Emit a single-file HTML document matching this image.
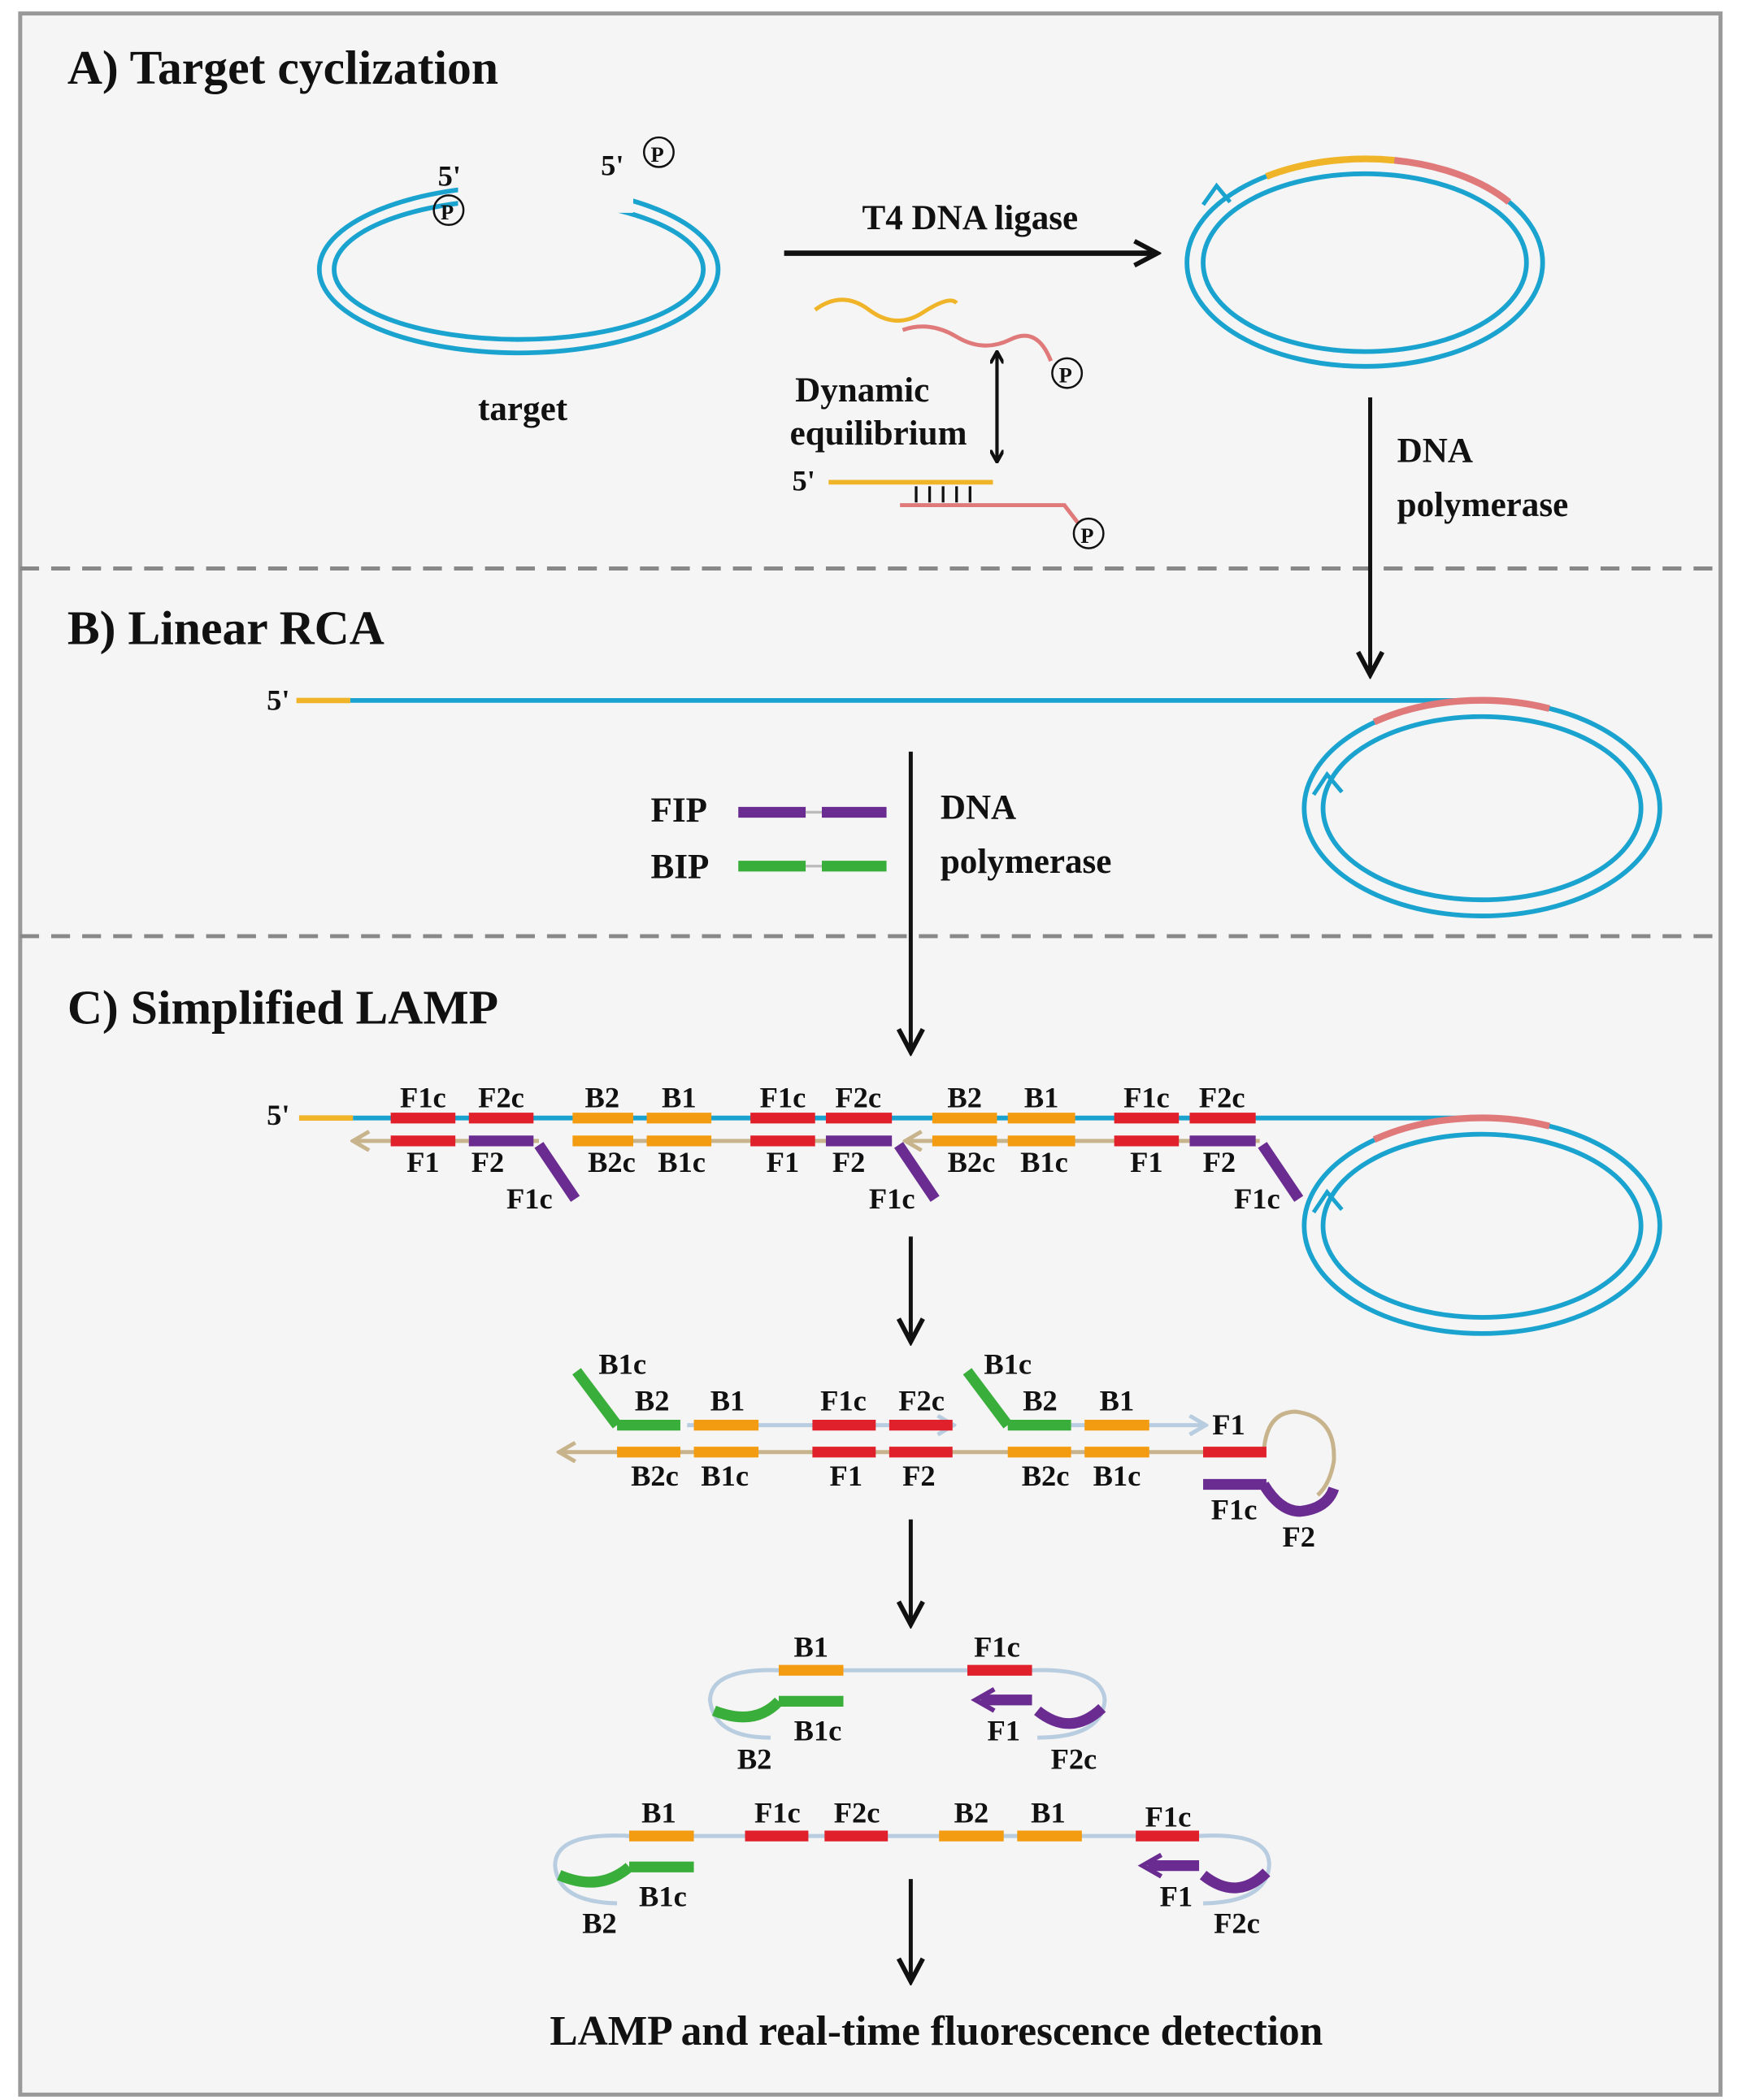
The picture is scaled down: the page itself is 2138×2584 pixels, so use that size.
<!DOCTYPE html>
<html><head><meta charset="utf-8"><style>
html,body{margin:0;padding:0;background:#fff;}
svg{display:block;}
text{font-family:"Liberation Serif",serif;font-weight:bold;fill:#111;}
</style></head><body>
<svg width="2138" height="2584" viewBox="0 0 1290 1559" preserveAspectRatio="none" xmlns="http://www.w3.org/2000/svg">
<defs>
<marker id="ah" markerWidth="10" markerHeight="10" refX="8" refY="5" orient="auto-start-reverse" markerUnits="userSpaceOnUse"><path d="M0,0 L9,5 L0,10" fill="none" stroke="#111" stroke-width="2.5"/></marker>
<marker id="ahs" markerWidth="22" markerHeight="22" refX="18" refY="11" orient="auto" markerUnits="userSpaceOnUse"><path d="M2,2 L19,11 L2,20" fill="none" stroke="#111" stroke-width="3.5"/></marker>
<marker id="tan" markerWidth="16" markerHeight="16" refX="2" refY="8" orient="auto" markerUnits="userSpaceOnUse"><path d="M14,1 L2,8 L14,15" fill="none" stroke="#c8b48c" stroke-width="3"/></marker>
<marker id="lb" markerWidth="16" markerHeight="16" refX="14" refY="8" orient="auto" markerUnits="userSpaceOnUse"><path d="M2,1 L14,8 L2,15" fill="none" stroke="#b8cde0" stroke-width="3"/></marker>
</defs>
<rect x="0" y="0" width="1290" height="1559" fill="#fff"/>
<rect x="15" y="10" width="1262" height="1545" fill="#f5f5f5" stroke="#999" stroke-width="3"/>
<line x1="15" y1="422" x2="1277" y2="422" stroke="#888" stroke-width="3" stroke-dasharray="14,9"/>
<line x1="15" y1="695" x2="1277" y2="695" stroke="#888" stroke-width="3" stroke-dasharray="14,9"/>

<!-- A -->
<text x="50" y="62" font-size="36">A) Target cyclization</text>
<g fill="none" stroke="#1ba3d0" stroke-width="3.5">
<ellipse cx="385" cy="200" rx="148" ry="62"/>
<ellipse cx="385" cy="200" rx="137" ry="52"/>
</g>
<rect x="340" y="128" width="130" height="30" fill="#f5f5f5"/>
<text x="325" y="138" font-size="22">5'</text>
<circle cx="333" cy="156" r="11" fill="none" stroke="#111" stroke-width="1.5"/><text x="327" y="163" font-size="16" font-weight="normal">P</text>
<text x="446" y="130" font-size="22">5'</text>
<circle cx="489" cy="113" r="11" fill="none" stroke="#111" stroke-width="1.5"/><text x="483" y="120" font-size="16" font-weight="normal">P</text>
<text x="388" y="312" font-size="26" text-anchor="middle">target</text>

<line x1="582" y1="188" x2="858" y2="188" stroke="#111" stroke-width="4" marker-end="url(#ahs)"/>
<text x="720" y="170" font-size="26" text-anchor="middle">T4 DNA ligase</text>

<g fill="none" stroke="#1ba3d0" stroke-width="3.5">
<ellipse cx="1013" cy="195" rx="132" ry="77"/>
<ellipse cx="1013" cy="195" rx="120" ry="66"/>
</g>
<path d="M940,131 A132,77 0 0,1 1035,119" fill="none" stroke="#f0b429" stroke-width="5"/>
<path d="M1035,119 A132,77 0 0,1 1120,150" fill="none" stroke="#e07a7a" stroke-width="5"/>
<path d="M893,152 L903,138 L913,150" fill="none" stroke="#1ba3d0" stroke-width="3"/>

<path d="M605,230 Q625,215 645,230 T685,232 T710,225" fill="none" stroke="#f0b429" stroke-width="3"/>
<path d="M670,245 Q690,238 710,250 T750,252 T780,268" fill="none" stroke="#e07a7a" stroke-width="3"/>
<circle cx="792" cy="277" r="11" fill="none" stroke="#111" stroke-width="1.5"/><text x="786" y="284" font-size="16" font-weight="normal">P</text>
<line x1="740" y1="262" x2="740" y2="342" stroke="#111" stroke-width="2.5" marker-start="url(#ah)" marker-end="url(#ah)"/>
<text x="640" y="298" font-size="26" text-anchor="middle">Dynamic</text>
<text x="652" y="330" font-size="26" text-anchor="middle">equilibrium</text>
<text x="588" y="364" font-size="22">5'</text>
<line x1="615" y1="358" x2="737" y2="358" stroke="#f0b429" stroke-width="3.5"/>
<path d="M668,375 L790,375 L800,388" fill="none" stroke="#e07a7a" stroke-width="3"/>
<g stroke="#111" stroke-width="2"><line x1="680" y1="361" x2="680" y2="373"/><line x1="690" y1="361" x2="690" y2="373"/><line x1="700" y1="361" x2="700" y2="373"/><line x1="710" y1="361" x2="710" y2="373"/><line x1="720" y1="361" x2="720" y2="373"/></g>
<circle cx="808" cy="396" r="11" fill="none" stroke="#111" stroke-width="1.5"/><text x="802" y="403" font-size="16" font-weight="normal">P</text>

<line x1="1017" y1="295" x2="1017" y2="500" stroke="#111" stroke-width="3" marker-end="url(#ahs)"/>
<text x="1037" y="343" font-size="26">DNA</text>
<text x="1037" y="383" font-size="26">polymerase</text>

<!-- B -->
<text x="50" y="478" font-size="36">B) Linear RCA</text>
<text x="198" y="527" font-size="22">5'</text>
<line x1="220" y1="520" x2="260" y2="520" stroke="#f0b429" stroke-width="4"/>
<line x1="260" y1="520" x2="1100" y2="520" stroke="#1ba3d0" stroke-width="3.5"/>
<g fill="none" stroke="#1ba3d0" stroke-width="3.5">
<ellipse cx="1100" cy="600" rx="132" ry="80"/>
<ellipse cx="1100" cy="600" rx="118" ry="68"/>
</g>
<path d="M1020,536 A132,80 0 0,1 1150,526" fill="none" stroke="#e07a7a" stroke-width="5"/>
<path d="M975,590 L985,575 L996,588" fill="none" stroke="#1ba3d0" stroke-width="3"/>
<text x="483" y="610" font-size="26">FIP</text>
<line x1="548" y1="603" x2="598" y2="603" stroke="#6a2c91" stroke-width="8"/><line x1="598" y1="603" x2="610" y2="603" stroke="#bbb" stroke-width="2"/><line x1="610" y1="603" x2="658" y2="603" stroke="#6a2c91" stroke-width="8"/>
<text x="483" y="652" font-size="26">BIP</text>
<line x1="548" y1="643" x2="598" y2="643" stroke="#3aae3a" stroke-width="8"/><line x1="598" y1="643" x2="610" y2="643" stroke="#bbb" stroke-width="2"/><line x1="610" y1="643" x2="658" y2="643" stroke="#3aae3a" stroke-width="8"/>
<line x1="676" y1="558" x2="676" y2="780" stroke="#111" stroke-width="3" marker-end="url(#ahs)"/>
<text x="698" y="608" font-size="26">DNA</text>
<text x="698" y="648" font-size="26">polymerase</text>

<!-- C -->
<text x="50" y="760" font-size="36">C) Simplified LAMP</text>
<text x="198" y="835" font-size="22">5'</text>
<line x1="222" y1="830" x2="262" y2="830" stroke="#f0b429" stroke-width="4"/>
<line x1="262" y1="830" x2="1100" y2="830" stroke="#1ba3d0" stroke-width="3.5"/>
<g fill="none" stroke="#1ba3d0" stroke-width="3.5">
<ellipse cx="1100" cy="910" rx="132" ry="80"/>
<ellipse cx="1100" cy="910" rx="118" ry="68"/>
</g>
<path d="M1020,846 A132,80 0 0,1 1150,836" fill="none" stroke="#e07a7a" stroke-width="5"/>
<path d="M975,900 L985,885 L996,898" fill="none" stroke="#1ba3d0" stroke-width="3"/>
<g stroke="#c8b48c" stroke-width="3">
<line x1="262" y1="847" x2="400" y2="847" marker-start="url(#tan)"/>
<line x1="425" y1="847" x2="662" y2="847"/>
<line x1="672" y1="847" x2="935" y2="847" marker-start="url(#tan)"/>
</g>
<g stroke-width="8">
<line x1="290" y1="830" x2="338" y2="830" stroke="#e0202a"/><line x1="348" y1="830" x2="396" y2="830" stroke="#e0202a"/>
<line x1="425" y1="830" x2="470" y2="830" stroke="#f39c12"/><line x1="480" y1="830" x2="528" y2="830" stroke="#f39c12"/>
<line x1="557" y1="830" x2="605" y2="830" stroke="#e0202a"/><line x1="613" y1="830" x2="662" y2="830" stroke="#e0202a"/>
<line x1="692" y1="830" x2="740" y2="830" stroke="#f39c12"/><line x1="748" y1="830" x2="798" y2="830" stroke="#f39c12"/>
<line x1="827" y1="830" x2="875" y2="830" stroke="#e0202a"/><line x1="883" y1="830" x2="932" y2="830" stroke="#e0202a"/>
<line x1="290" y1="847" x2="338" y2="847" stroke="#e0202a"/><line x1="348" y1="847" x2="396" y2="847" stroke="#6a2c91"/>
<line x1="425" y1="847" x2="470" y2="847" stroke="#f39c12"/><line x1="480" y1="847" x2="528" y2="847" stroke="#f39c12"/>
<line x1="557" y1="847" x2="605" y2="847" stroke="#e0202a"/><line x1="613" y1="847" x2="662" y2="847" stroke="#6a2c91"/>
<line x1="692" y1="847" x2="740" y2="847" stroke="#f39c12"/><line x1="748" y1="847" x2="798" y2="847" stroke="#f39c12"/>
<line x1="827" y1="847" x2="875" y2="847" stroke="#e0202a"/><line x1="883" y1="847" x2="932" y2="847" stroke="#6a2c91"/>
<line x1="400" y1="850" x2="427" y2="890" stroke="#6a2c91"/>
<line x1="667" y1="850" x2="694" y2="890" stroke="#6a2c91"/>
<line x1="937" y1="850" x2="964" y2="890" stroke="#6a2c91"/>
</g>
<g font-size="22" text-anchor="middle">
<text x="314" y="822">F1c</text><text x="372" y="822">F2c</text><text x="447" y="822">B2</text><text x="504" y="822">B1</text>
<text x="581" y="822">F1c</text><text x="637" y="822">F2c</text><text x="716" y="822">B2</text><text x="773" y="822">B1</text>
<text x="851" y="822">F1c</text><text x="907" y="822">F2c</text>
<text x="314" y="870">F1</text><text x="362" y="870">F2</text><text x="454" y="870">B2c</text><text x="506" y="870">B1c</text>
<text x="581" y="870">F1</text><text x="630" y="870">F2</text><text x="721" y="870">B2c</text><text x="775" y="870">B1c</text>
<text x="851" y="870">F1</text><text x="905" y="870">F2</text>
<text x="393" y="897">F1c</text><text x="662" y="897">F1c</text><text x="933" y="897">F1c</text>
</g>

<line x1="676" y1="918" x2="676" y2="995" stroke="#111" stroke-width="3" marker-end="url(#ahs)"/>

<!-- row 2 -->
<line x1="415" y1="1078" x2="895" y2="1078" stroke="#c8b48c" stroke-width="3" marker-start="url(#tan)"/>
<line x1="510" y1="1058" x2="708" y2="1058" stroke="#b8cde0" stroke-width="3" marker-end="url(#lb)"/>
<line x1="795" y1="1058" x2="895" y2="1058" stroke="#b8cde0" stroke-width="3" marker-end="url(#lb)"/>
<path d="M938,1078 Q940,1048 962,1048 Q992,1052 990,1085 Q987,1102 978,1110" fill="none" stroke="#c8b48c" stroke-width="3"/>
<g stroke-width="8" fill="none">
<line x1="458" y1="1058" x2="505" y2="1058" stroke="#3aae3a"/><line x1="458" y1="1058" x2="428" y2="1018" stroke="#3aae3a"/>
<line x1="515" y1="1058" x2="563" y2="1058" stroke="#f39c12"/>
<line x1="603" y1="1058" x2="650" y2="1058" stroke="#e0202a"/><line x1="660" y1="1058" x2="707" y2="1058" stroke="#e0202a"/>
<line x1="748" y1="1058" x2="795" y2="1058" stroke="#3aae3a"/><line x1="748" y1="1058" x2="718" y2="1018" stroke="#3aae3a"/>
<line x1="805" y1="1058" x2="853" y2="1058" stroke="#f39c12"/>
<line x1="458" y1="1078" x2="505" y2="1078" stroke="#f39c12"/><line x1="515" y1="1078" x2="563" y2="1078" stroke="#f39c12"/>
<line x1="603" y1="1078" x2="650" y2="1078" stroke="#e0202a"/><line x1="660" y1="1078" x2="707" y2="1078" stroke="#e0202a"/>
<line x1="748" y1="1078" x2="795" y2="1078" stroke="#f39c12"/><line x1="805" y1="1078" x2="853" y2="1078" stroke="#f39c12"/>
<line x1="893" y1="1078" x2="940" y2="1078" stroke="#e0202a"/>
<line x1="893" y1="1102" x2="940" y2="1102" stroke="#6a2c91"/>
<path d="M938,1102 Q950,1122 965,1122 Q985,1120 990,1105" stroke="#6a2c91"/>
</g>
<g font-size="22" text-anchor="middle">
<text x="462" y="1020">B1c</text><text x="484" y="1047">B2</text><text x="540" y="1047">B1</text><text x="626" y="1047">F1c</text><text x="684" y="1047">F2c</text>
<text x="748" y="1020">B1c</text><text x="772" y="1047">B2</text><text x="829" y="1047">B1</text><text x="912" y="1065">F1</text>
<text x="486" y="1103">B2c</text><text x="538" y="1103">B1c</text><text x="628" y="1103">F1</text><text x="682" y="1103">F2</text>
<text x="776" y="1103">B2c</text><text x="829" y="1103">B1c</text><text x="916" y="1128">F1c</text><text x="964" y="1148">F2</text>
</g>

<line x1="676" y1="1128" x2="676" y2="1205" stroke="#111" stroke-width="3" marker-end="url(#ahs)"/>

<!-- dumbbell 1 -->
<line x1="580" y1="1240" x2="720" y2="1240" stroke="#b8cde0" stroke-width="3"/>
<path d="M580,1240 Q528,1238 527,1262 Q530,1290 572,1290" fill="none" stroke="#b8cde0" stroke-width="3"/>
<path d="M765,1240 Q818,1238 820,1262 Q818,1290 770,1290" fill="none" stroke="#b8cde0" stroke-width="3"/>
<g stroke-width="8" fill="none">
<line x1="578" y1="1240" x2="626" y2="1240" stroke="#f39c12"/>
<line x1="578" y1="1263" x2="626" y2="1263" stroke="#3aae3a"/>
<path d="M578,1263 Q560,1282 530,1270" stroke="#3aae3a"/>
<line x1="718" y1="1240" x2="766" y2="1240" stroke="#e0202a"/>
<line x1="728" y1="1262" x2="766" y2="1262" stroke="#6a2c91"/>
<path d="M770,1270 Q795,1290 818,1268" stroke="#6a2c91"/>
</g>
<path d="M738,1254 L724,1262 L738,1270" fill="none" stroke="#6a2c91" stroke-width="3.5"/>
<g font-size="22" text-anchor="middle">
<text x="602" y="1230">B1</text><text x="740" y="1230">F1c</text>
<text x="607" y="1292">B1c</text><text x="560" y="1313">B2</text><text x="745" y="1292">F1</text><text x="797" y="1313">F2c</text>
</g>

<!-- dumbbell 2 -->
<line x1="465" y1="1363" x2="845" y2="1363" stroke="#b8cde0" stroke-width="3"/>
<path d="M467,1363 Q412,1360 412,1385 Q414,1412 458,1413" fill="none" stroke="#b8cde0" stroke-width="3"/>
<path d="M890,1363 Q943,1360 942,1385 Q940,1412 893,1413" fill="none" stroke="#b8cde0" stroke-width="3"/>
<g stroke-width="8" fill="none">
<line x1="467" y1="1363" x2="515" y2="1363" stroke="#f39c12"/>
<line x1="467" y1="1386" x2="515" y2="1386" stroke="#3aae3a"/>
<path d="M467,1386 Q445,1405 415,1392" stroke="#3aae3a"/>
<line x1="553" y1="1363" x2="600" y2="1363" stroke="#e0202a"/><line x1="612" y1="1363" x2="659" y2="1363" stroke="#e0202a"/>
<line x1="697" y1="1363" x2="745" y2="1363" stroke="#f39c12"/><line x1="755" y1="1363" x2="803" y2="1363" stroke="#f39c12"/>
<line x1="843" y1="1363" x2="890" y2="1363" stroke="#e0202a"/>
<line x1="852" y1="1385" x2="890" y2="1385" stroke="#6a2c91"/>
<path d="M893,1392 Q918,1412 940,1390" stroke="#6a2c91"/>
</g>
<path d="M862,1377 L848,1385 L862,1393" fill="none" stroke="#6a2c91" stroke-width="3.5"/>
<g font-size="22" text-anchor="middle">
<text x="489" y="1353">B1</text><text x="577" y="1353">F1c</text><text x="636" y="1353">F2c</text><text x="721" y="1353">B2</text><text x="778" y="1353">B1</text><text x="867" y="1356">F1c</text>
<text x="492" y="1415">B1c</text><text x="445" y="1435">B2</text><text x="873" y="1415">F1</text><text x="918" y="1435">F2c</text>
</g>

<line x1="676" y1="1395" x2="676" y2="1470" stroke="#111" stroke-width="3" marker-end="url(#ahs)"/>
<text x="695" y="1518" font-size="31" text-anchor="middle">LAMP and real-time fluorescence detection</text>
</svg>
</body></html>
